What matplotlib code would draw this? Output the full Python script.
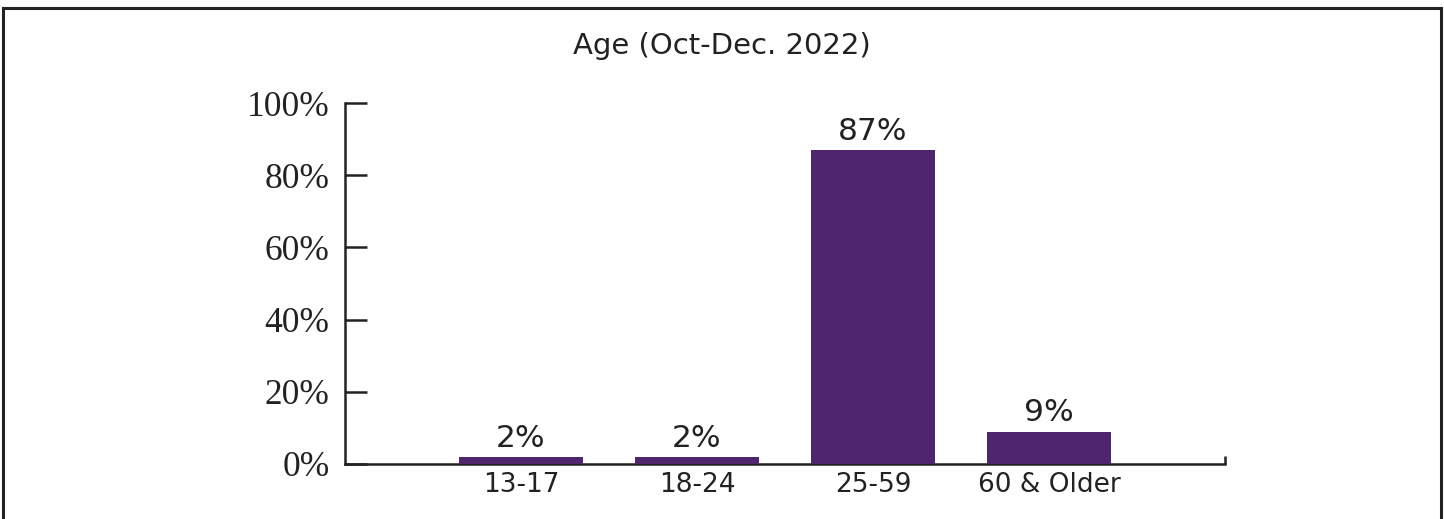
import matplotlib
matplotlib.use("Agg")
import matplotlib.pyplot as plt
from matplotlib.patches import Rectangle

categories = ["13-17", "18-24", "25-59", "60 & Older"]
values = [2, 2, 87, 9]
labels = ["2%", "2%", "87%", "9%"]
yticks = [0, 20, 40, 60, 80, 100]
ytick_labels = ["0%", "20%", "40%", "60%", "80%", "100%"]
title = "Age (Oct-Dec. 2022)"

bar_color = "#50256f"
text_color = "#222222"

W, H = 1444, 519
fig = plt.figure(figsize=(W / 100, H / 100), dpi=100)
ax = fig.add_axes([345 / W, 1 - 464 / H, (1225 - 345) / W, (464 - 103) / H])

x = list(range(len(categories)))
bars = ax.bar(x, values, width=0.7, color=bar_color, zorder=3)
for xi, v, lab in zip(x, values, labels):
    ax.annotate(lab, (xi, v), xytext=(0, 3), textcoords="offset points",
                ha="center", va="bottom", fontsize=22.5, color=text_color,
                family="DejaVu Sans")

ax.set_xlim(-1, 4)
ax.set_ylim(0, 100)
ax.set_yticks(yticks)
ax.set_yticklabels(ytick_labels, family="Liberation Serif", fontsize=25.5, color=text_color)
ax.set_xticks(x)
ax.set_xticklabels(categories, family="DejaVu Sans", fontsize=19, color=text_color)
ax.set_xticks([4], minor=True)

ax.tick_params(axis="y", direction="in", length=16, width=1.8, color=text_color, pad=11)
ax.tick_params(axis="x", which="major", length=0, pad=6)
ax.tick_params(axis="x", which="minor", direction="in", length=6, width=1.8, color=text_color)

for s in ["top", "right"]:
    ax.spines[s].set_visible(False)
for s in ["left", "bottom"]:
    ax.spines[s].set_linewidth(1.8)
    ax.spines[s].set_color(text_color)

fig.text(0.5, 1 - 46 / H, title, ha="center", va="center", fontsize=21,
         family="DejaVu Sans", color=text_color)

frame = Rectangle((3.5 / W, -0.1), (1441 - 3.5) / W, 1.1 - 8 / H,
                  transform=fig.transFigure, fill=False, edgecolor=text_color,
                  linewidth=2.2)
fig.patches.append(frame)

fig.savefig("out.png", dpi=100, facecolor="white")
